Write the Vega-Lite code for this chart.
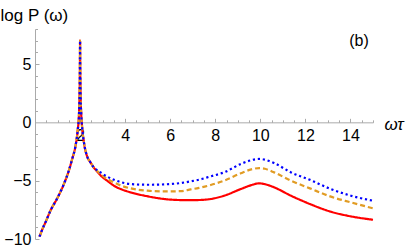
{
  "$schema": "https://vega.github.io/schema/vega-lite/v6.json",
  "autosize": "none",
  "width": 338,
  "height": 210,
  "padding": {"left": 35, "top": 29, "right": 33, "bottom": 10},
  "background": "white",
  "config": {"view": {"stroke": null}, "font": "Liberation Sans"},
  "resolve": {"axis": {"x": "independent", "y": "independent"}},
  "layer": [
    {
      "data": {"values": [
        {"s":"s1","x":0.2,"y":-9.8},{"s":"s1","x":0.33,"y":-9.15},{"s":"s1","x":0.47,"y":-8.55},{"s":"s1","x":0.69,"y":-7.55},{"s":"s1","x":0.99,"y":-6.5},{"s":"s1","x":1.28,"y":-5.3},{"s":"s1","x":1.5,"y":-4.15},{"s":"s1","x":1.65,"y":-3.14},{"s":"s1","x":1.8,"y":-2.0},{"s":"s1","x":1.9,"y":-0.6},{"s":"s1","x":1.95,"y":0.6},{"s":"s1","x":1.98,"y":2.6},{"s":"s1","x":1.99,"y":4.0},{"s":"s1","x":1.995,"y":5.4},{"s":"s1","x":2.0,"y":7.0},{"s":"s1","x":2.005,"y":5.4},{"s":"s1","x":2.01,"y":4.0},{"s":"s1","x":2.02,"y":2.6},{"s":"s1","x":2.05,"y":0.77},{"s":"s1","x":2.09,"y":-0.4},{"s":"s1","x":2.17,"y":-1.7},{"s":"s1","x":2.32,"y":-2.95},{"s":"s1","x":2.47,"y":-3.45},{"s":"s1","x":2.6,"y":-3.85},
        {"s":"s1","x":2.75,"y":-4.2},{"s":"s1","x":2.91,"y":-4.55},{"s":"s1","x":3.2,"y":-5.0},{"s":"s1","x":3.5,"y":-5.43},{"s":"s1","x":3.85,"y":-5.75},{"s":"s1","x":4.24,"y":-6.0},{"s":"s1","x":5.0,"y":-6.34},{"s":"s1","x":5.73,"y":-6.57},{"s":"s1","x":6.47,"y":-6.66},{"s":"s1","x":7.2,"y":-6.66},{"s":"s1","x":7.8,"y":-6.57},{"s":"s1","x":8.39,"y":-6.29},{"s":"s1","x":9.13,"y":-5.72},{"s":"s1","x":9.6,"y":-5.38},{"s":"s1","x":9.95,"y":-5.23},{"s":"s1","x":10.2,"y":-5.3},{"s":"s1","x":10.61,"y":-5.57},{"s":"s1","x":11.36,"y":-6.29},{"s":"s1","x":12.2,"y":-7.0},{"s":"s1","x":13.13,"y":-7.66},{"s":"s1","x":14.02,"y":-8.06},{"s":"s1","x":15.0,"y":-8.35},
        {"s":"s2","x":0.2,"y":-9.8},{"s":"s2","x":0.33,"y":-9.15},{"s":"s2","x":0.47,"y":-8.55},{"s":"s2","x":0.69,"y":-7.55},{"s":"s2","x":0.99,"y":-6.5},{"s":"s2","x":1.28,"y":-5.3},{"s":"s2","x":1.5,"y":-4.15},{"s":"s2","x":1.65,"y":-3.14},{"s":"s2","x":1.8,"y":-2.0},{"s":"s2","x":1.9,"y":-0.6},{"s":"s2","x":1.95,"y":0.6},{"s":"s2","x":1.98,"y":2.6},{"s":"s2","x":1.99,"y":4.0},{"s":"s2","x":1.995,"y":5.4},{"s":"s2","x":2.0,"y":7.0},{"s":"s2","x":2.005,"y":5.4},{"s":"s2","x":2.01,"y":4.0},{"s":"s2","x":2.02,"y":2.6},{"s":"s2","x":2.05,"y":0.77},{"s":"s2","x":2.09,"y":-0.4},{"s":"s2","x":2.17,"y":-1.7},{"s":"s2","x":2.32,"y":-2.95},{"s":"s2","x":2.47,"y":-3.45},{"s":"s2","x":2.6,"y":-3.85},
        {"s":"s2","x":2.75,"y":-4.15},{"s":"s2","x":2.91,"y":-4.43},{"s":"s2","x":3.2,"y":-4.85},{"s":"s2","x":3.5,"y":-5.14},{"s":"s2","x":3.85,"y":-5.45},{"s":"s2","x":4.24,"y":-5.66},{"s":"s2","x":5.0,"y":-5.86},{"s":"s2","x":5.73,"y":-5.92},{"s":"s2","x":6.47,"y":-5.9},{"s":"s2","x":6.91,"y":-5.75},{"s":"s2","x":7.28,"y":-5.62},{"s":"s2","x":7.8,"y":-5.37},{"s":"s2","x":8.39,"y":-5.0},{"s":"s2","x":9.13,"y":-4.37},{"s":"s2","x":9.6,"y":-4.03},{"s":"s2","x":9.95,"y":-3.92},{"s":"s2","x":10.2,"y":-3.98},{"s":"s2","x":10.61,"y":-4.29},{"s":"s2","x":11.36,"y":-5.0},{"s":"s2","x":12.2,"y":-5.66},{"s":"s2","x":13.13,"y":-6.37},{"s":"s2","x":14.02,"y":-6.86},{"s":"s2","x":15.0,"y":-7.37},
        {"s":"s3","x":0.2,"y":-9.8},{"s":"s3","x":0.33,"y":-9.15},{"s":"s3","x":0.47,"y":-8.55},{"s":"s3","x":0.69,"y":-7.55},{"s":"s3","x":0.99,"y":-6.5},{"s":"s3","x":1.28,"y":-5.3},{"s":"s3","x":1.5,"y":-4.15},{"s":"s3","x":1.65,"y":-3.14},{"s":"s3","x":1.8,"y":-2.0},{"s":"s3","x":1.9,"y":-0.6},{"s":"s3","x":1.95,"y":0.6},{"s":"s3","x":1.98,"y":2.6},{"s":"s3","x":1.99,"y":4.0},{"s":"s3","x":1.995,"y":5.4},{"s":"s3","x":2.0,"y":7.0},{"s":"s3","x":2.005,"y":5.4},{"s":"s3","x":2.01,"y":4.0},{"s":"s3","x":2.02,"y":2.6},{"s":"s3","x":2.05,"y":0.77},{"s":"s3","x":2.09,"y":-0.4},{"s":"s3","x":2.17,"y":-1.7},{"s":"s3","x":2.32,"y":-2.95},{"s":"s3","x":2.47,"y":-3.45},{"s":"s3","x":2.6,"y":-3.85},
        {"s":"s3","x":2.75,"y":-4.1},{"s":"s3","x":2.91,"y":-4.29},{"s":"s3","x":3.2,"y":-4.65},{"s":"s3","x":3.5,"y":-4.92},{"s":"s3","x":3.85,"y":-5.15},{"s":"s3","x":4.24,"y":-5.29},{"s":"s3","x":5.0,"y":-5.35},{"s":"s3","x":5.73,"y":-5.32},{"s":"s3","x":6.47,"y":-5.2},{"s":"s3","x":6.91,"y":-5.06},{"s":"s3","x":7.28,"y":-4.92},{"s":"s3","x":7.8,"y":-4.63},{"s":"s3","x":8.39,"y":-4.29},{"s":"s3","x":9.13,"y":-3.57},{"s":"s3","x":9.6,"y":-3.24},{"s":"s3","x":9.95,"y":-3.14},{"s":"s3","x":10.2,"y":-3.2},{"s":"s3","x":10.61,"y":-3.49},{"s":"s3","x":11.36,"y":-4.29},{"s":"s3","x":12.2,"y":-4.93},{"s":"s3","x":13.13,"y":-5.72},{"s":"s3","x":14.02,"y":-6.29},{"s":"s3","x":15.0,"y":-6.72}
      ]},
      "mark": {"type": "line", "interpolate": "monotone", "strokeWidth": 2.2},
      "encoding": {
        "x": {
          "field": "x", "type": "quantitative",
          "scale": {"domain": [0, 15], "nice": false, "zero": false},
          "axis": {
            "orient": "bottom", "offset": -116.67,
            "values": [2,4,6,8,10,12,14],
            "format": "d",
            "ticks": false, "tickSize": 0,
            "labelPadding": 5,
            "labelFontSize": 16, "labelFont": "Liberation Sans", "labelColor": "#000000",
            "labelFlush": false,
            "domainColor": "#aaaaaa", "domainWidth": 1,
            "grid": false,
            "title": "ωτ", "titleAngle": 0, "titleX": 349, "titleY": 2, "titleAlign": "left", "titleBaseline": "middle",
            "titleFontSize": 17, "titleFontStyle": "italic", "titleFontWeight": "normal", "titleFont": "Liberation Sans", "titleColor": "#000000"
          }
        },
        "y": {
          "field": "y", "type": "quantitative",
          "scale": {"domain": [-10, 8], "nice": false, "zero": false},
          "axis": {
            "orient": "left",
            "values": [-10,-5,0,5],
            "format": "d",
            "ticks": false, "tickSize": 0,
            "labelPadding": 4,
            "labelFontSize": 16, "labelFont": "Liberation Sans", "labelColor": "#000000",
            "labelFlush": false,
            "domainColor": "#aaaaaa", "domainWidth": 1,
            "grid": false,
            "title": "log P (ω)", "titleAngle": 0, "titleX": -35, "titleY": -9, "titleAlign": "left", "titleBaseline": "alphabetic",
            "titleFontSize": 17, "titleFontWeight": "normal", "titleFont": "Liberation Sans", "titleColor": "#000000"
          }
        },
        "color": {"field": "s", "type": "nominal", "scale": {"domain": ["s1","s2","s3"], "range": ["#ff0000","#e19c24","#0000ff"]}, "legend": null},
        "strokeDash": {"field": "s", "type": "nominal", "scale": {"domain": ["s1","s2","s3"], "range": [[1,0],[5,3],[2.2,2.8]]}, "legend": null}
      }
    },
    {
      "data": {"values": [{"x": 14.38, "y": 6.95, "t": "(b)"}]},
      "mark": {"type": "text", "fontSize": 16, "font": "Liberation Sans", "color": "#000000"},
      "encoding": {
        "x": {
          "field": "x", "type": "quantitative",
          "scale": {"domain": [0, 15], "nice": false, "zero": false},
          "axis": {
            "orient": "top", "offset": -93.33,
            "values": [0.5,1,1.5,2,2.5,3,3.5,4,4.5,5,5.5,6,6.5,7,7.5,8,8.5,9,9.5,10,10.5,11,11.5,12,12.5,13,13.5,14,14.5,15],
            "labels": false, "domain": false, "grid": false, "title": null,
            "tickSize": {"condition": {"test": "datum.value % 2 == 0", "value": 4}, "value": 2.5},
            "tickColor": "#aaaaaa", "tickWidth": 1
          }
        },
        "y": {
          "field": "y", "type": "quantitative",
          "scale": {"domain": [-10, 8], "nice": false, "zero": false},
          "axis": {
            "orient": "right", "offset": -338,
            "values": [-10,-9,-8,-7,-6,-5,-4,-3,-2,-1,1,2,3,4,5,6,7,8],
            "labels": false, "domain": false, "grid": false, "title": null,
            "tickSize": {"condition": {"test": "datum.value % 5 == 0", "value": 4}, "value": 2.5},
            "tickColor": "#aaaaaa", "tickWidth": 1
          }
        },
        "text": {"field": "t"}
      }
    }
  ]
}
